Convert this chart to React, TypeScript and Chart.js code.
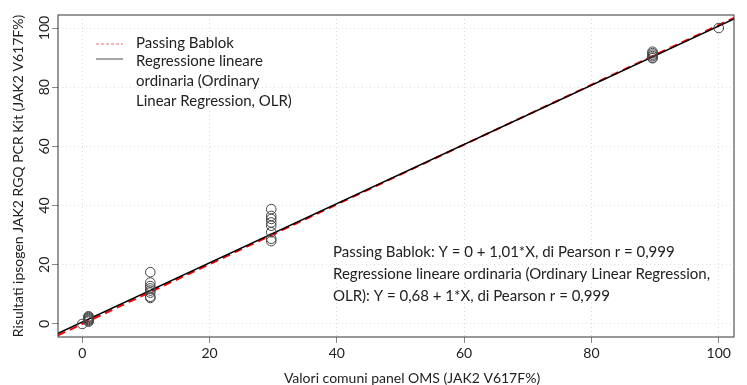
import React, { useEffect, useRef } from "react";
import { Chart, registerables } from "chart.js";

Chart.register(...registerables);

// ---- data ----
const panelValues = [0, 1, 1, 1, 1, 1, 1, 1, 10.7, 10.7, 10.7, 10.7, 10.7, 10.7, 10.7, 10.7, 29.7, 29.7, 29.7, 29.7, 29.7, 29.7, 29.7, 29.7, 89.6, 89.6, 89.6, 89.6, 89.6, 89.6, 100];
const kitResults = [0, 0.8, 1.1, 1.4, 1.7, 2.0, 2.3, 2.6, 17.5, 14.0, 12.8, 12.0, 11.3, 10.6, 9.2, 8.8, 38.8, 36.5, 35.5, 34.3, 33.2, 31.0, 28.8, 28.0, 92.0, 91.5, 91.0, 90.5, 90.0, 89.8, 100];
const xTicks = [0, 20, 40, 60, 80, 100];
const yTicks = [0, 20, 40, 60, 80, 100];
const xRange = [-3.8, 102.4];
const yRange = [-4.4, 104.4];
const pbIntercept = 0;
const pbSlope = 1.01;
const olrIntercept = 0.68;
const olrSlope = 1;
const legendLabels = ["Passing Bablok", "Regressione lineare", "ordinaria (Ordinary", "Linear Regression, OLR)"];
const noteLines = [
  "Passing Bablok: Y = 0 + 1,01*X, di Pearson r = 0,999",
  "Regressione lineare ordinaria (Ordinary Linear Regression,",
  "OLR): Y = 0,68 + 1*X, di Pearson r = 0,999",
];
const xTitle = "Valori comuni panel OMS (JAK2 V617F%)";
const yTitle = "Risultati ipsogen JAK2 RGQ PCR Kit (JAK2 V617F%)";

const FONT = "Lato, 'DejaVu Sans', sans-serif";
const TEXT = "#222";

const overlay = {
  id: "overlay",
  afterDraw(chart: any) {
    const ctx = chart.ctx;
    const a = chart.chartArea;
    const ys = chart.scales.y;
    ctx.save();
    // box
    ctx.strokeStyle = "#333";
    ctx.lineWidth = 1;
    ctx.strokeRect(a.left, a.top, a.right - a.left, a.bottom - a.top);
    // y tick labels rotated
    ctx.fillStyle = TEXT;
    ctx.font = `14px ${FONT}`;
    ctx.textAlign = "center";
    ctx.textBaseline = "middle";
    yTicks.forEach((v) => {
      const py = ys.getPixelForValue(v);
      ctx.save();
      ctx.translate(44, py);
      ctx.rotate(-Math.PI / 2);
      ctx.fillText(String(v), 0, 0);
      ctx.restore();
    });
    // axis titles
    ctx.font = `14px ${FONT}`;
    ctx.fillText(xTitle, 412, 378);
    ctx.save();
    ctx.translate(18, (a.top + a.bottom) / 2);
    ctx.rotate(-Math.PI / 2);
    ctx.fillText(yTitle, 0, 0);
    ctx.restore();
    // legend
    ctx.strokeStyle = "#e87070";
    ctx.lineWidth = 1;
    ctx.setLineDash([3, 2]);
    ctx.beginPath();
    ctx.moveTo(96, 44);
    ctx.lineTo(123, 44);
    ctx.stroke();
    ctx.setLineDash([]);
    ctx.strokeStyle = "#888";
    ctx.lineWidth = 1.5;
    ctx.beginPath();
    ctx.moveTo(96, 59);
    ctx.lineTo(123, 59);
    ctx.stroke();
    ctx.textAlign = "left";
    ctx.font = `15px ${FONT}`;
    const legY = [43, 61, 81, 101];
    legendLabels.forEach((t, i) => ctx.fillText(t, 136, legY[i]));
    // note
    const noteY = [252, 274, 296];
    noteLines.forEach((t, i) => ctx.fillText(t, 333, noteY[i]));
    ctx.restore();
  },
};

export default function App() {
  const ref = useRef<HTMLCanvasElement>(null);
  useEffect(() => {
    const points = panelValues.map((x, i) => ({ x, y: kitResults[i] }));
    const pbLine = xRange.map((x) => ({ x, y: pbIntercept + pbSlope * x }));
    const olrLine = xRange.map((x) => ({ x, y: olrIntercept + olrSlope * x }));
    const chart = new Chart(ref.current!, {
      type: "scatter",
      data: {
        datasets: [
          {
            data: points,
            pointRadius: 4.8,
            pointBorderColor: "#444",
            pointBackgroundColor: "rgba(0,0,0,0)",
            pointBorderWidth: 1,
            showLine: false,
          },
          {
            data: olrLine,
            showLine: true,
            pointRadius: 0,
            borderColor: "#000",
            borderWidth: 1.5,
          },
          {
            data: pbLine,
            showLine: true,
            pointRadius: 0,
            borderColor: "#f00",
            borderWidth: 2,
            borderDash: [8, 5],
          },
        ],
      },
      plugins: [overlay],
      options: {
        animation: false,
        responsive: false,
        devicePixelRatio: 1,
        layout: { padding: { left: 0, right: 13, top: 15, bottom: 0 } },
        plugins: { legend: { display: false }, tooltip: { enabled: false } },
        scales: {
          x: {
            type: "linear",
            min: xRange[0],
            max: xRange[1],
            afterBuildTicks: (s: any) => {
              s.ticks = xTicks.map((v) => ({ value: v }));
            },
            afterFit: (s: any) => {
              s.height = 48;
            },
            grid: {
              color: "#dedede",
              lineWidth: 1,
              drawTicks: true,
              tickLength: 6,
              tickColor: "#888",
              tickBorderDash: [],
            },
            border: { display: false, dash: [1, 3] },
            ticks: {
              color: TEXT,
              font: { family: FONT, size: 14 },
              padding: 2,
              maxRotation: 0,
            },
          },
          y: {
            type: "linear",
            min: yRange[0],
            max: yRange[1],
            afterBuildTicks: (s: any) => {
              s.ticks = yTicks.map((v) => ({ value: v }));
            },
            afterFit: (s: any) => {
              s.width = 58;
            },
            grid: {
              color: "#dedede",
              lineWidth: 1,
              drawTicks: true,
              tickLength: 6,
              tickColor: "#888",
              tickBorderDash: [],
            },
            border: { display: false, dash: [1, 3] },
            ticks: { display: false },
          },
        },
      },
    });
    return () => chart.destroy();
  }, []);
  return (
    <div style={{ position: "fixed", left: 0, top: 0, width: 747, height: 385, background: "#fff" }}>
      <canvas ref={ref} width={747} height={385} style={{ width: 747, height: 385 }} />
    </div>
  );
}
